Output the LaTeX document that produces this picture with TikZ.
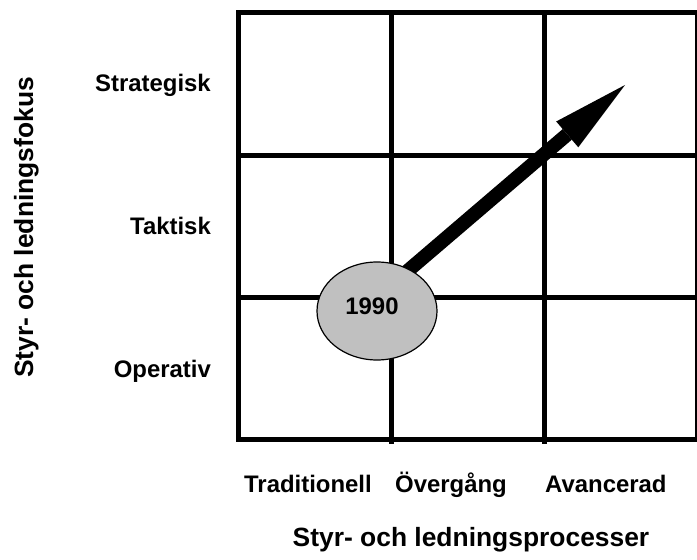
\documentclass[tikz,border=0pt]{standalone}
\usepackage{fontspec}
\setmainfont{Liberation Sans}
\usetikzlibrary{arrows.meta,calc,backgrounds,shapes.geometric}
\definecolor{ellgray}{RGB}{192,192,192}
\begin{document}
\begin{tikzpicture}[x=1bp,y=-1bp,
  gridline/.style={line width=4.5bp},
  lab/.style={font=\fontsize{24}{28}\selectfont\bfseries, inner sep=0pt},
  axtitle/.style={font=\fontsize{26.5}{30}\selectfont\bfseries, inner sep=0pt},
  yearnode/.style={ellipse, draw=black, line width=1.2bp, fill=ellgray, minimum width=120bp, minimum height=98bp, inner sep=0pt},
  trendarrow/.style={line width=14bp, -{Triangle[length=76bp, width=34bp, line width=0pt]}}]
\useasboundingbox (0,0) rectangle (697,560);
% grid
\draw[gridline] (238.5,12.5) rectangle (697.5,439.5);
\draw[gridline] (238.5,155.5) -- (697.5,155.5);
\draw[gridline] (238.5,297.5) -- (697.5,297.5);
\draw[gridline] (391.5,12.5) -- (391.5,444);
\draw[gridline] (544.5,12.5) -- (544.5,444);
% ellipse and arrow
\coordinate (tip) at (625,85);
\node[yearnode] (yr) at (377,311) {};
\node[lab] (yrlabel) at (372,306.5) {1990};
\begin{scope}[on background layer]
\draw[trendarrow] ($(yr.52)!-10bp!(tip)$) -- (tip);
\end{scope}
% row labels
\node[lab, anchor=base east] (strat) at (211,92) {Strategisk};
\node[lab, anchor=base east] (takt) at (211,235) {Taktisk};
\node[lab, anchor=base east] (oper) at (211,377) {Operativ};
% column labels
\node[lab, anchor=base west] (trad) at (244,492) {Traditionell};
\node[lab, anchor=base west] (overg) at (395,492) {Övergång};
\node[lab, anchor=base west] (avanc) at (545,492) {Avancerad};
% axis titles
\node[axtitle, anchor=base] (xtitle) at (471,546) {Styr- och ledningsprocesser};
\node[axtitle, anchor=base west, rotate=90] (ytitle) at (33,378) {Styr- och ledningsfokus};
\end{tikzpicture}
\end{document}
